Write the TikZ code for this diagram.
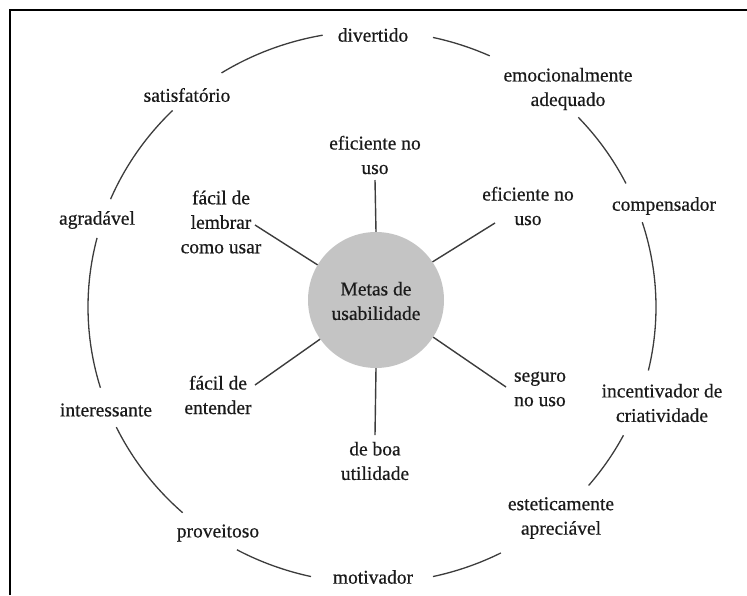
\documentclass[tikz,border=0pt]{standalone}
\usepackage{fontspec}
\setmainfont{Liberation Serif}[FakeBold=0.6]
\definecolor{hubgray}{HTML}{C4C4C4}
\definecolor{ink}{HTML}{1A1A1A}
\begin{document}
\begin{tikzpicture}[x=1pt,y=-1pt,
  lbl/.style={font=\fontsize{19.5}{24.5}\selectfont, text=ink, align=center, inner sep=0pt},
  spoke/.style={draw=ink!85, line width=1.4pt},
  ring/.style={draw=ink!85, line width=1.3pt},
  frame/.style={draw=black, line width=2pt}]
\useasboundingbox (0,0) rectangle (747,595);
% frame (only top and left edges visible)
\coordinate (fA) at (10,595);
\coordinate (fB) at (10,10);
\coordinate (fC) at (747,10);
\draw[frame] (fA) -- (fB) -- (fC);

% hub
\node[circle, fill=hubgray, minimum size=136pt, inner sep=0pt] (hub) at (376,300) {};
\node[lbl] (hubtxt) at (376,301) {Metas de\\usabilidade};

% inner labels
\node[lbl] (i1) at (375,155) {eficiente no\\uso};
\node[lbl] (i2) at (528,206) {eficiente no\\uso};
\node[lbl] (i3) at (540,389) {seguro\\no uso};
\node[lbl] (i4) at (375,461) {de boa\\utilidade};
\node[lbl] (i5) at (218,395) {fácil de\\entender};
\node[lbl] (i6) at (221,222) {fácil de\\lembrar\\como usar};

% spokes
\coordinate (s1) at (375,180);
\coordinate (s2) at (495,223);
\coordinate (s3) at (506,387);
\coordinate (s4) at (375,435);
\coordinate (s5) at (255,385);
\coordinate (s6) at (255,225);
\draw[spoke] (hub.90) -- (s1);
\draw[spoke] (hub.34) -- (s2);
\draw[spoke] (hub.-33) -- (s3);
\draw[spoke] (hub.-90) -- (s4);
\draw[spoke] (hub.-145) -- (s5);
\draw[spoke] (hub.149) -- (s6);

% outer labels
\node[lbl] (o1) at (373,35) {divertido};
\node[lbl] (o2) at (568,89) {emocionalmente\\adequado};
\node[lbl] (o3) at (664,206) {compensador};
\node[lbl] (o4) at (662,403) {incentivador de\\criatividade};
\node[lbl] (o5) at (561,518) {esteticamente\\apreciável};
\node[lbl] (o6) at (373,577) {motivador};
\node[lbl] (o7) at (218,533) {proveitoso};
\node[lbl] (o8) at (106,410) {interessante};
\node[lbl] (o9) at (97,220) {agradável};
\node[lbl] (o10) at (187,95) {satisfatório};

% ring arcs
\coordinate (O) at (372,307);
\foreach \a/\b in {122/100, 77.6/65.5, 43.4/26.6, 17.9/-13.3, -27.7/-40.3,
                   -63/-77.6, -102.4/-118.4, -131.8/-154.2, -163/-194.5, 157/134.6}{
  \draw[ring] ([shift={(\a:284pt and 276pt)}]O)
     arc[start angle=\a, end angle=\b, x radius=284pt, y radius=276pt];
}
\end{tikzpicture}
\end{document}
